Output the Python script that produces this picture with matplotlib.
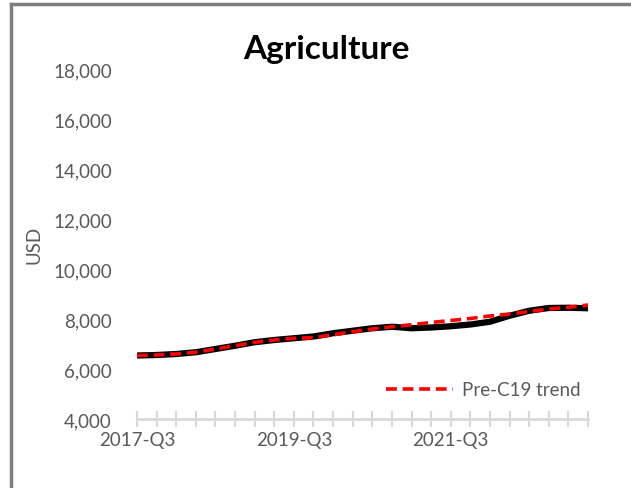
import numpy as np
import matplotlib
matplotlib.use("Agg")
import matplotlib.pyplot as plt
from matplotlib.lines import Line2D

# Quarterly series, 2017-Q3 .. 2023-Q2
quarters = [f"{y}-Q{q}" for y in range(2017, 2024) for q in range(1, 5)][2:26]

actual = [6540, 6560, 6600, 6670, 6800, 6930, 7070, 7160, 7230, 7300,
          7430, 7530, 7630, 7690, 7630, 7660, 7710, 7780, 7890, 8130,
          8330, 8440, 8450, 8430]

trend = [6540, 6560, 6600, 6670, 6800, 6930, 7070, 7160, 7230, 7250,
         7370, 7490, 7600, 7690, 7770, 7860, 7940, 8020, 8120, 8200,
         8300, 8400, 8470, 8560]

label_every = 8

W, H = 631, 489
plt.rcParams["font.family"] = ["Lato", "DejaVu Sans"]
fig = plt.figure(figsize=(W / 100, H / 100), dpi=100)
ax = fig.add_axes([137 / W, 1 - 420 / H, (588 - 137) / W, (420 - 70) / H])

grey = "#595959"
fs = 13.5

x = np.arange(len(quarters))
ax.plot(x, actual, color="black", lw=4.5, solid_joinstyle="round",
        solid_capstyle="butt", zorder=2)
trend_line, = ax.plot(x, trend, color="#ff0000", lw=2.6, ls=(0, (3, 1.6)),
                      zorder=3, label="Pre-C19 trend")

ax.set_xlim(0, len(quarters) - 1)
ax.set_ylim(4000, 18000)
ax.set_yticks(np.arange(4000, 18001, 2000))
ax.set_yticklabels([f"{v:,}" for v in range(4000, 18001, 2000)],
                   color=grey, fontsize=fs)
ax.set_xticks(x)
ax.set_xticklabels([q if i % label_every == 0 else "" for i, q in enumerate(quarters)],
                   color=grey, fontsize=fs)

for s in ["top", "right", "left"]:
    ax.spines[s].set_visible(False)
ax.spines["bottom"].set_color("#d9d9d9")
ax.spines["bottom"].set_linewidth(2)
ax.tick_params(axis="x", direction="inout", length=11, width=1.5,
               color="#d9d9d9", pad=3)
ax.tick_params(axis="y", length=0, pad=18)

ax.set_ylabel("USD", color=grey, fontsize=fs, labelpad=8)
fig.text(326 / W, 1 - 50 / H, "Agriculture", fontsize=24, fontweight="bold",
         ha="center", va="center")

leg = ax.legend(handles=[trend_line], loc="center right",
                bbox_to_anchor=(1.0, 0.083), frameon=False,
                fontsize=fs, handlelength=3.6, handletextpad=0.45,
                borderaxespad=0.0)
for t in leg.get_texts():
    t.set_color(grey)

# chart frame (left and top edges)
fig.add_artist(Line2D([11 / W, 11 / W], [0, 1 - 5 / H], color="#7f7f7f",
                      lw=2.5, transform=fig.transFigure))
fig.add_artist(Line2D([11 / W, 1], [1 - 5 / H, 1 - 5 / H], color="#7f7f7f",
                      lw=2.5, transform=fig.transFigure))

fig.savefig("out.png", dpi=100)
